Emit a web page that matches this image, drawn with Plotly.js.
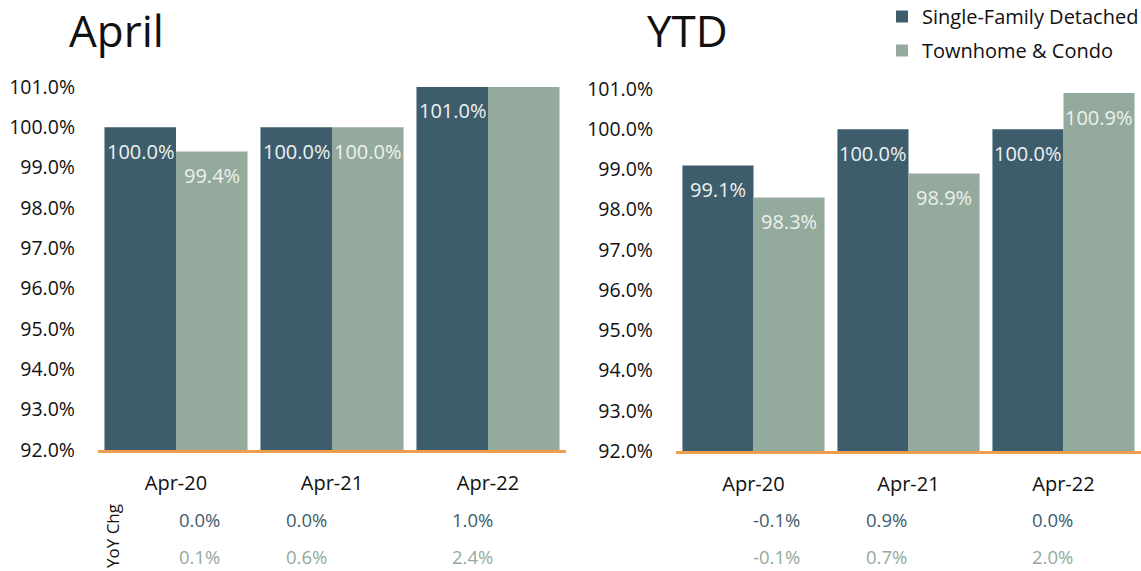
<!DOCTYPE html>
<html>
<head>
<meta charset="utf-8">
<script src="https://cdn.plot.ly/plotly-3.0.1.min.js"></script>
<style>html,body{margin:0;padding:0;background:#fff;}#chart{width:1141px;height:571px;}</style>
</head>
<body>
<div id="chart"></div>
<script>
// ---- data ----
const categories = ['Apr-20', 'Apr-21', 'Apr-22'];
const seriesNames = ['Single-Family Detached', 'Townhome & Condo'];
const aprilSFD = [100.0, 100.0, 101.0];
const aprilTC = [99.4, 100.0, 102.4];
const ytdSFD = [99.1, 100.0, 100.0];
const ytdTC = [98.3, 98.9, 100.9];
const aprilYoySFD = ['0.0%', '0.0%', '1.0%'];
const aprilYoyTC = ['0.1%', '0.6%', '2.4%'];
const ytdYoySFD = ['-0.1%', '0.9%', '0.0%'];
const ytdYoyTC = ['-0.1%', '0.7%', '2.0%'];
const panelTitles = ['April', 'YTD'];
const yTicks = [92, 93, 94, 95, 96, 97, 98, 99, 100, 101];
const yTickText = yTicks.map(v => v.toFixed(1) + '%');

// ---- style ----
const W = 1141, H = 571;
const DARK = '#3e5d6c', LIGHT = '#93aa9c', ORANGE = '#ef9d4b';
const FONT = 'Open Sans, sans-serif';
const yMin = 92, yMax = 101;

function bar(name, y, color, xa, ya, showlegend, group) {
  return {
    type: 'bar', name: name, x: categories, y: y, xaxis: xa, yaxis: ya,
    marker: {color: color, line: {width: 0}}, showlegend: showlegend,
    legendgroup: group, hoverinfo: 'skip', cliponaxis: true
  };
}

const traces = [
  bar(seriesNames[0], aprilSFD, DARK, 'x', 'y', true, 'g1'),
  bar(seriesNames[1], aprilTC, LIGHT, 'x', 'y', true, 'g2'),
  bar(seriesNames[0], ytdSFD, DARK, 'x2', 'y2', false, 'g1'),
  bar(seriesNames[1], ytdTC, LIGHT, 'x2', 'y2', false, 'g2')
];

const annotations = [];
// bar value labels
function addLabels(vals, xref, yref, shift) {
  vals.forEach((v, i) => {
    if (v > yMax) return; // label falls outside the visible plot
    annotations.push({
      x: categories[i], y: v, xref: xref, yref: yref,
      xshift: shift, yshift: -24, yanchor: 'middle', xanchor: 'center',
      text: v.toFixed(1) + '%', showarrow: false,
      font: {family: FONT, size: 20, color: '#eef1ee'}
    });
  });
}
addLabels(aprilSFD, 'x', 'y', -35.5);
addLabels(aprilTC, 'x', 'y', 35.5);
addLabels(ytdSFD, 'x2', 'y2', -35.5);
addLabels(ytdTC, 'x2', 'y2', 35.5);

// titles
const titlePos = [116, 688];
panelTitles.forEach((t, i) => {
  annotations.push({
    x: titlePos[i] / W, y: 1 - 30 / H, xref: 'paper', yref: 'paper',
    xanchor: 'center', yanchor: 'middle', text: t, showarrow: false,
    font: {family: FONT, size: 44, color: '#111'}
  });
});

// YoY rows
const yoyRight = [[222, 329, 495], [802, 909, 1075]];
const yoyRows = [[aprilYoySFD, aprilYoyTC], [ytdYoySFD, ytdYoyTC]];
const rowY = [519, 556];
const rowColor = [DARK, LIGHT];
yoyRows.forEach((panel, p) => {
  panel.forEach((row, r) => {
    row.forEach((txt, i) => {
      annotations.push({
        x: yoyRight[p][i] / W, y: 1 - rowY[r] / H, xref: 'paper', yref: 'paper',
        xanchor: 'right', yanchor: 'middle', text: txt, showarrow: false,
        font: {family: FONT, size: 18.5, color: rowColor[r]}
      });
    });
  });
});
annotations.push({
  x: 112 / W, y: 1 - 536 / H, xref: 'paper', yref: 'paper',
  xanchor: 'center', yanchor: 'middle', text: 'YoY Chg', textangle: -90,
  showarrow: false, font: {family: FONT, size: 17, color: '#111'}
});

function yaxis(domain, anchor) {
  return {
    domain: domain, anchor: anchor, range: [yMin, yMax],
    tickmode: 'array', tickvals: yTicks, ticktext: yTickText,
    showgrid: false, zeroline: false,
    showline: false, ticks: '', ticklabelstandoff: 22,
    tickfont: {family: FONT, size: 19.5, color: '#111'}, fixedrange: true
  };
}
function xaxis(domain, anchor) {
  return {
    domain: domain, anchor: anchor, type: 'category', showgrid: false,
    zeroline: false, showline: true, linecolor: ORANGE, linewidth: 3,
    ticks: '', ticklabelstandoff: 13,
    tickfont: {family: FONT, size: 20, color: '#111'}, fixedrange: true
  };
}

const layout = {
  width: W, height: H,
  margin: {l: 0, r: 0, t: 0, b: 0, autoexpand: false},
  paper_bgcolor: '#fff', plot_bgcolor: '#fff',
  font: {family: FONT},
  barmode: 'group', bargap: 0.083, bargroupgap: 0,
  xaxis: xaxis([98 / W, 566 / W], 'y'),
  yaxis: yaxis([1 - 450 / H, 1 - 87 / H], 'x'),
  xaxis2: xaxis([676 / W, 1], 'y2'),
  yaxis2: yaxis([1 - 451 / H, 1 - 89 / H], 'x2'),
  showlegend: true,
  legend: {
    x: 882 / W, y: 1 + 3 / H, xanchor: 'left', yanchor: 'top',
    orientation: 'v', tracegroupgap: 5, traceorder: 'grouped',
    font: {family: FONT, size: 20, color: '#111'}, bgcolor: 'rgba(0,0,0,0)'
  },
  annotations: annotations
};

Plotly.newPlot('chart', traces, layout, {displayModeBar: false, staticPlot: true});
</script>
</body>
</html>
